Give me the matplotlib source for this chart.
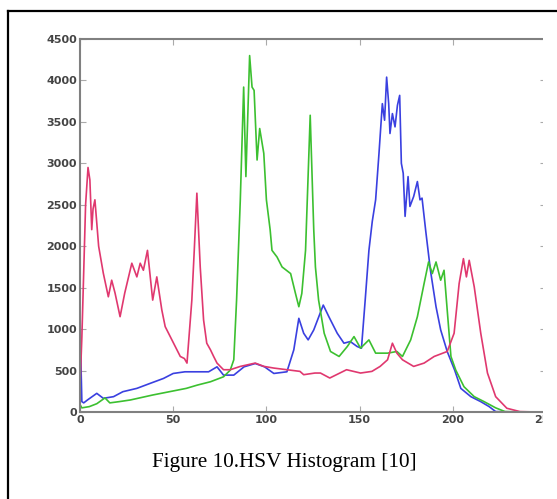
import matplotlib
matplotlib.use("Agg")
import matplotlib.pyplot as plt
from matplotlib.patches import Rectangle
from matplotlib.lines import Line2D

# ---- data ----
red_x = [0, 1, 2, 3, 4.3, 5.3, 6.3, 7, 8, 10, 12.5, 15.2, 17, 18.8, 21.5, 24, 27.8, 30.5,
         32.3, 34, 36.2, 39, 41.2, 43.9, 45.7, 49.3, 52, 53.8, 56, 57.4, 60, 61.3, 62.7,
         64.5, 66.3, 68, 70, 71.7, 73.5, 77, 80.6, 86, 94, 98.7, 104, 111, 118, 120, 126,
         129, 134, 143, 150.5, 156.6, 161, 165, 167.6, 170, 173, 179, 184.6, 190, 197,
         200.7, 203.4, 205.7, 207.3, 208.8, 211.5, 215, 218.6, 223, 229, 236, 245, 255]
red_y = [300, 900, 1700, 2500, 2950, 2800, 2200, 2450, 2560, 2000, 1675, 1390, 1590, 1435,
         1150, 1435, 1795, 1630, 1795, 1710, 1950, 1350, 1630, 1230, 1030, 870, 750, 670,
         645, 590, 1350, 1950, 2640, 1750, 1110, 830, 750, 670, 590, 510, 510, 550, 590,
         550, 530, 510, 490, 450, 470, 470, 410, 510, 470, 490, 550, 630, 830, 710, 630,
         550, 590, 670, 730, 950, 1550, 1850, 1630, 1830, 1510, 950, 470, 185, 45, 5, 0, 0]

green_x = [0, 1, 5, 9, 13.4, 16, 21, 27, 33, 39, 48, 57, 63, 70, 77, 80.6, 82.5, 84, 86,
           87.8, 89, 91, 92.3, 93.4, 95, 96.4, 98.6, 100, 102, 103, 105.7, 108.4, 113,
           115.6, 117.4, 119, 121, 123.5, 125.4, 126.3, 128, 131, 134.4, 139, 143.4, 147,
           150.5, 155, 158.6, 165, 170, 173, 177.4, 181, 184.6, 187, 189, 191, 193.5,
           195.3, 197, 199, 201.6, 206, 211.5, 216.8, 223, 228, 240, 255]
green_y = [90, 50, 65, 100, 170, 110, 125, 145, 175, 205, 245, 285, 325, 365, 425, 505,
           630, 1350, 2560, 3920, 2840, 4300, 3920, 3880, 3040, 3420, 3120, 2560, 2200, 1950,
           1870, 1750, 1670, 1430, 1270, 1430, 1950, 3580, 2200, 1750, 1350, 950, 730, 670,
           790, 910, 770, 870, 710, 710, 730, 670, 870, 1150, 1550, 1810, 1670, 1810, 1590,
           1710, 1230, 670, 505, 305, 185, 125, 50, 5, 0, 0]

blue_x = [0, 0.6, 1, 2, 4, 9, 12.5, 18, 23, 30.5, 37.6, 44.8, 50, 56.3, 63, 69, 73.5, 77,
          82.5, 88, 94, 99, 104, 111, 114.7, 117.4, 120, 122.4, 125.4, 130.5, 133.5, 138,
          141.6, 145, 148.7, 151, 153, 155, 156.8, 158.6, 160.4, 162.2, 163.4, 164.5,
          165.6, 166.3, 167.6, 169, 170.3, 171.5, 172.4, 173.4, 174.4, 176, 177, 179, 181,
          182.4, 183.5, 185.5, 188, 191, 193.5, 197, 201, 204.3, 209.7, 215, 219.5, 223,
          235, 255]
blue_y = [1230, 500, 125, 110, 145, 225, 165, 185, 245, 285, 345, 405, 465, 485, 485, 485,
          545, 445, 445, 545, 585, 545, 465, 485, 750, 1130, 950, 870, 990, 1290, 1150, 950,
          830, 850, 790, 770, 1350, 1950, 2300, 2560, 3120, 3720, 3520, 4040, 3720, 3360,
          3600, 3440, 3700, 3820, 3000, 2880, 2360, 2840, 2480, 2600, 2780, 2560, 2580, 2180,
          1710, 1270, 990, 730, 505, 285, 185, 125, 65, 5, 0, 0]

x_ticks = [0, 50, 100, 150, 200, 250]
y_ticks = [0, 500, 1000, 1500, 2000, 2500, 3000, 3500, 4000, 4500]
caption = "Figure 10.HSV Histogram [10]"

W, H = 557, 499
fig = plt.figure(figsize=(W / 100, H / 100), dpi=100)
fig.patch.set_facecolor("white")

ax = fig.add_axes([80 / W, (H - 412) / H, (546 - 80) / W, (412 - 39) / H])
ax.plot(blue_x, blue_y, color="#3a40e0", lw=1.2)
ax.plot(green_x, green_y, color="#3cc030", lw=1.2)
ax.plot(red_x, red_y, color="#e0386f", lw=1.2)

ax.set_xlim(0, 250)
ax.set_ylim(0, 4500)
ax.set_xticks(x_ticks)
ax.set_yticks(y_ticks)
ax.set_xticklabels([str(v) for v in x_ticks])
ax.set_yticklabels([str(v) for v in y_ticks])
ax.tick_params(direction="in", length=4, width=0.8, colors="#aaaaaa",
               labelcolor="#444444", labelsize=8, pad=2, top=True, right=True)
for lab in ax.get_xticklabels() + ax.get_yticklabels():
    lab.set_fontweight("bold")
for s in ax.spines.values():
    s.set_color("#808080")
    s.set_linewidth(1.5)

# white cover clipping the right side of the screenshot
fig.add_artist(Rectangle((543 / W, 0), (W - 543) / W, (H - 13) / H,
                         transform=fig.transFigure, facecolor="white",
                         edgecolor="none", zorder=10))

# frame lines
fig.add_artist(Line2D([7.5 / W, 1.0], [(H - 10.5) / H, (H - 10.5) / H],
                      transform=fig.transFigure, color="black", lw=1.6, zorder=11))
fig.add_artist(Line2D([7.5 / W, 7.5 / W], [0, (H - 10.5) / H],
                      transform=fig.transFigure, color="black", lw=1.6, zorder=11))

# caption
fig.text(284 / W, (H - 462) / H, caption, ha="center", va="center",
         family="Liberation Serif", fontsize=15.3, color="black")

fig.savefig("out.png", dpi=100)
